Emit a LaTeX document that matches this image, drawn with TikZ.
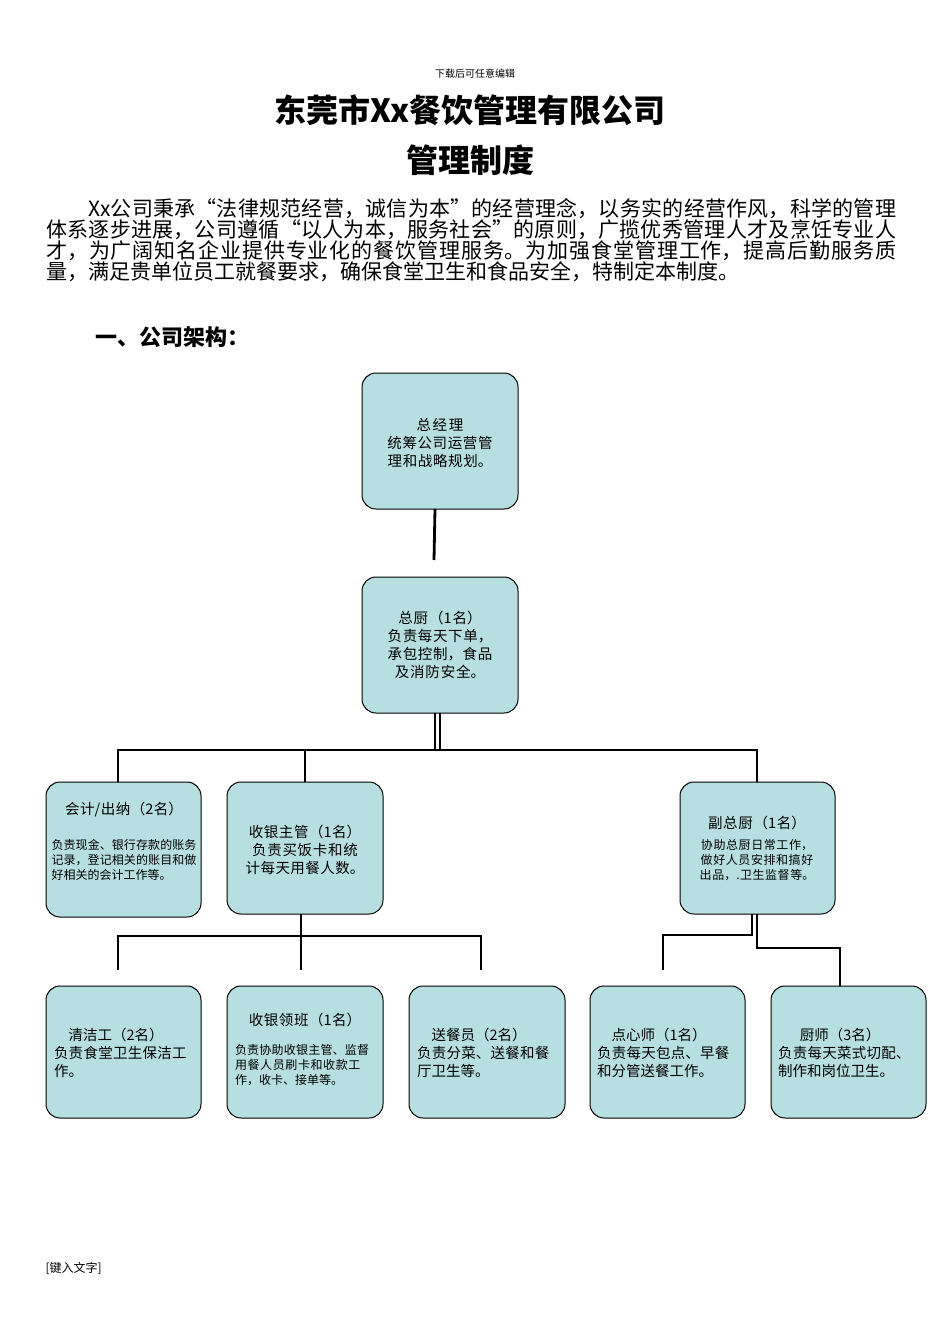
\documentclass[tikz,border=0pt]{standalone}
\usepackage{fontspec}
\setmainfont{Liberation Serif}
\newfontfamily\cjk{Noto Sans CJK SC}
\XeTeXlinebreaklocale "zh"
\XeTeXlinebreakskip=0pt plus 1pt
\begin{document}
\begin{tikzpicture}[x=1pt,y=-1pt,
 bx/.style={draw=black,line width=1pt,fill={rgb,255:red,183;green,223;blue,225},rounded corners=14pt,inner sep=0pt},
 tx/.style={align=center,font=\cjk\fontsize{14.5}{18}\selectfont,text width=150pt},
 sm/.style={align=center,font=\cjk\fontsize{12}{15}\selectfont,text width=150pt},
 ln/.style={line width=2.8pt}]
\useasboundingbox (0,0) rectangle (950,1344);
\node at (475,74) {\cjk\fontsize{10}{12}\selectfont 下载后可任意编辑};
\node at (470,110) {\cjk\bfseries\fontsize{32}{36}\selectfont 东莞市Xx餐饮管理有限公司};
\node at (470,160) {\cjk\bfseries\fontsize{32}{36}\selectfont 管理制度};
\node[anchor=north west,text width=850pt,align=justify,inner sep=0pt] at (46,198) {\cjk\fontsize{21}{24.5}\selectfont\hspace*{2em}Xx公司秉承“法律规范经营，诚信为本”的经营理念，以务实的经营作风，科学的管理体系逐步进展，公司遵循“以人为本，服务社会”的原则，广揽优秀管理人才及烹饪专业人才，为广阔知名企业提供专业化的餐饮管理服务。为加强食堂管理工作，提高后勤服务质量，满足贵单位员工就餐要求，确保食堂卫生和食品安全，特制定本制度。};
\node[anchor=west] at (92,337) {\cjk\bfseries\fontsize{22}{26}\selectfont 一、公司架构：};
\node[anchor=west] at (42,1268) {\cjk\fontsize{12}{14}\selectfont [键入文字]};
% boxes
\path[bx] (362,373) rectangle (518,509); \node[tx,text width=140pt] (gm) at (440,443) {总经理\\统筹公司运营管理和战略规划。};
\path[bx] (362,577) rectangle (518,713); \node[tx,text width=140pt] (zc) at (440,645) {总厨（1名）\\负责每天下单，承包控制，食品及消防安全。};
\path[bx] (46,782) rectangle (201,917); \node[tx,text width=145pt] (kj) at (124,810) {会计/出纳（2名）};
\node[sm,text width=145pt,align=justify] (kj2) at (124,860) {负责现金、银行存款的账务记录，登记相关的账目和做好相关的会计工作等。};
\path[bx] (227,782) rectangle (383,914); \node[tx,text width=145pt] (sy) at (305,850) {收银主管（1名）\\负责买饭卡和统计每天用餐人数。};
\path[bx] (680,782) rectangle (835,914); \node[tx,text width=140pt] (fz) at (757,823) {副总厨（1名）};
\node[sm,text width=140pt] (fz2) at (757,860) {协助总厨日常工作，做好人员安排和搞好出品，.卫生监督等。};
\path[bx] (46,986) rectangle (201,1118); \node[tx,text width=140pt,align=left] (qj) at (124,1053) {\hspace*{1em}清洁工（2名）\\负责食堂卫生保洁工作。};
\path[bx] (227,986) rectangle (383,1118); \node[tx,text width=145pt] (sl) at (305,1020) {收银领班（1名）};
\node[sm,text width=140pt,align=left] (sl2) at (305,1065) {负责协助收银主管、监督用餐人员刷卡和收款工作，收卡、接单等。};
\path[bx] (409,986) rectangle (565,1118); \node[tx,text width=140pt,align=left] (sc) at (487,1053) {\hspace*{1em}送餐员（2名）\\负责分菜、送餐和餐厅卫生等。};
\path[bx] (590,986) rectangle (745,1118); \node[tx,text width=140pt,align=left] (dx) at (667,1053) {\hspace*{1em}点心师（1名）\\负责每天包点、早餐和分管送餐工作。};
\path[bx] (771,986) rectangle (926,1118); \node[tx,text width=140pt,align=left] (cs) at (848,1053) {\hspace*{1.5em}厨师（3名）\\负责每天菜式切配、制作和岗位卫生。};
% connectors
\coordinate (a1) at (435,509); \coordinate (a2) at (434,560);
\draw[ln] (a1) -- (a2);
\draw[line width=1.5pt] (435,713) -- (435,750) (440,713) -- (440,750);
\draw[ln] (118,782) -- (118,750) -- (757,750) -- (757,782);
\draw[ln] (305,750) -- (305,782);
\draw[ln] (301,914) -- (301,970);
\draw[ln] (118,970) -- (118,936) -- (481,936) -- (481,970);
\draw[ln] (752,914) -- (752,935) -- (663,935) -- (663,970);
\draw[ln] (757,914) -- (757,948) -- (840,948) -- (840,986);
\end{tikzpicture}
\end{document}
